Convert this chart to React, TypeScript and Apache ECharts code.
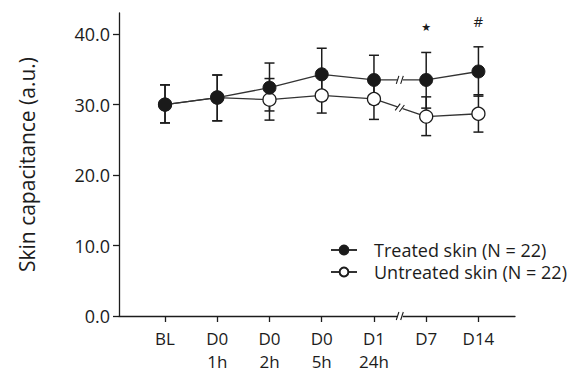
import React, { useEffect, useRef } from 'react';
import * as echarts from 'echarts';

const categories = ['BL', 'D0\n1h', 'D0\n2h', 'D0\n5h', 'D1\n24h', 'D7', 'D14'];
const treatedMean = [30.0, 31.0, 32.4, 34.3, 33.5, 33.5, 34.7];
const treatedLow = [27.4, 27.7, 29.1, 30.6, 30.1, 29.5, 31.2];
const treatedHigh = [32.8, 34.2, 35.9, 38.0, 37.0, 37.4, 38.2];
const untreatedMean = [30.0, 31.0, 30.7, 31.3, 30.8, 28.3, 28.7];
const untreatedLow = [27.4, 27.7, 27.8, 28.8, 27.9, 25.6, 26.1];
const untreatedHigh = [32.8, 34.2, 33.7, 33.8, 33.7, 31.1, 31.4];
const yTicks = [0, 10, 20, 30, 40];
const breakAfter = 4; // axis break between D1 and D7
const annotationIdx = [5, 6];
const annotationY = [40.9, 41.8];
const annotationText = ['★', '#'];

const FONT = 'Open Sans';
const INK = '#1c1c1c';

export default function App() {
  const ref = useRef<HTMLDivElement>(null);
  useEffect(() => {
    if (!ref.current) return;
    const chart = echarts.init(ref.current, undefined, { renderer: 'svg' });
    const xIdx = categories.map((_, i) => i);

    const errRender = (params: any, api: any) => {
      const x = api.value(0);
      const lo = api.coord([x, api.value(1)]);
      const hi = api.coord([x, api.value(2)]);
      const w = 5;
      const st = { stroke: INK, lineWidth: 1.5 };
      return {
        type: 'group',
        children: [
          { type: 'line', shape: { x1: lo[0], y1: lo[1], x2: hi[0], y2: hi[1] }, style: st },
          { type: 'line', shape: { x1: lo[0] - w, y1: lo[1], x2: lo[0] + w, y2: lo[1] }, style: st },
          { type: 'line', shape: { x1: hi[0] - w, y1: hi[1], x2: hi[0] + w, y2: hi[1] }, style: st },
        ],
      };
    };

    const breakRender = (params: any, api: any) => {
      const a = api.coord([api.value(0), api.value(1)]);
      const b = api.coord([api.value(2), api.value(3)]);
      const mx = (a[0] + b[0]) / 2;
      const my = (a[1] + b[1]) / 2;
      const ang = Math.atan2(b[1] - a[1], b[0] - a[0]);
      const st = { stroke: INK, lineWidth: 1.1 };
      return {
        type: 'group',
        x: mx,
        y: my,
        rotation: -ang,
        children: [
          { type: 'rect', shape: { x: -2.6, y: -3, width: 5.2, height: 6 }, style: { fill: '#fff' } },
          { type: 'line', shape: { x1: -3.8, y1: 4, x2: -1.2, y2: -4 }, style: st },
          { type: 'line', shape: { x1: 0.6, y1: 4, x2: 3.2, y2: -4 }, style: st },
        ],
      };
    };

    const annRender = (params: any, api: any) => {
      const p = api.coord([api.value(0), api.value(1)]);
      const i = params.dataIndex;
      return {
        type: 'text',
        x: p[0],
        y: p[1],
        style: {
          text: annotationText[i],
          fontFamily: i === 0 ? 'DejaVu Sans' : FONT,
          fontSize: i === 0 ? 11 : 15,
          fill: INK,
          align: 'center',
          verticalAlign: 'middle',
        },
      };
    };

    chart.setOption({
      animation: false,
      textStyle: { fontFamily: FONT },
      grid: { left: 119, right: 57, top: 13, bottom: 56, containLabel: false, outerBoundsMode: 'none' },
      legend: {
        orient: 'vertical',
        left: 330,
        top: 241,
        padding: 0,
        itemWidth: 26,
        itemHeight: 11,
        itemGap: 4,
        data: ['Treated skin (N = 22)', 'Untreated skin (N = 22)'],
        textStyle: { fontFamily: FONT, fontSize: 18, lineHeight: 18, color: INK, padding: [0, 0, 0, 12] },
      },
      xAxis: {
        type: 'value',
        min: -0.881,
        max: 6.7,
        splitLine: { show: false },
        axisLine: { show: true, onZero: false, lineStyle: { color: INK, width: 1.3 } },
        axisTick: { show: true, length: 6, customValues: xIdx, lineStyle: { color: INK, width: 1.3 } },
        axisLabel: {
          customValues: xIdx,
          formatter: (v: number) => categories[Math.round(v)] ?? '',
          fontFamily: FONT,
          fontSize: 17,
          color: INK,
          lineHeight: 23,
          margin: 11,
        },
      },
      yAxis: {
        type: 'value',
        min: 0,
        max: 43,
        splitLine: { show: false },
        axisLine: { show: true, onZero: false, lineStyle: { color: INK, width: 1.3 } },
        axisTick: { show: true, length: 6, customValues: yTicks, lineStyle: { color: INK, width: 1.3 } },
        axisLabel: {
          customValues: yTicks,
          formatter: (v: number) => v.toFixed(1),
          fontFamily: FONT,
          fontSize: 18,
          color: INK,
          margin: 9,
        },
        name: 'Skin capacitance (a.u.)',
        nameLocation: 'middle',
        nameGap: 82,
        nameTextStyle: { fontFamily: FONT, fontSize: 21, color: INK },
      },
      series: [
        {
          type: 'custom',
          name: 'errU',
          z: 1,
          renderItem: errRender,
          encode: { x: 0, y: [1, 2] },
          data: xIdx.map((i) => [i, untreatedLow[i], untreatedHigh[i]]),
          silent: true,
        },
        {
          type: 'custom',
          name: 'errT',
          z: 1,
          renderItem: errRender,
          encode: { x: 0, y: [1, 2] },
          data: xIdx.map((i) => [i, treatedLow[i], treatedHigh[i]]),
          silent: true,
        },
        {
          type: 'line',
          name: 'Untreated skin (N = 22)',
          z: 3,
          data: xIdx.map((i) => [i, untreatedMean[i]]),
          symbol: 'circle',
          symbolSize: 13,
          lineStyle: { color: '#333', width: 1.3 },
          itemStyle: { color: '#fff', borderColor: INK, borderWidth: 1.3 },
        },
        {
          type: 'line',
          name: 'Treated skin (N = 22)',
          z: 4,
          data: xIdx.map((i) => [i, treatedMean[i]]),
          symbol: 'circle',
          symbolSize: 13,
          lineStyle: { color: '#333', width: 1.3 },
          itemStyle: { color: '#1a1a1a', borderColor: INK, borderWidth: 1 },
        },
        {
          type: 'custom',
          name: 'breaks',
          z: 6,
          renderItem: breakRender,
          encode: { x: [0, 2], y: [1, 3] },
          data: [
            [breakAfter, treatedMean[breakAfter], breakAfter + 1, treatedMean[breakAfter + 1]],
            [breakAfter, untreatedMean[breakAfter], breakAfter + 1, untreatedMean[breakAfter + 1]],
            [breakAfter, 0, breakAfter + 1, 0],
          ],
          silent: true,
        },
        {
          type: 'custom',
          name: 'ann',
          z: 6,
          renderItem: annRender,
          encode: { x: 0, y: 1 },
          data: annotationIdx.map((x, i) => [x, annotationY[i]]),
          silent: true,
        },
      ],
    });
    return () => chart.dispose();
  }, []);
  return <div ref={ref} style={{ width: 572, height: 372, position: 'absolute', left: 0, top: 0 }} />;
}
